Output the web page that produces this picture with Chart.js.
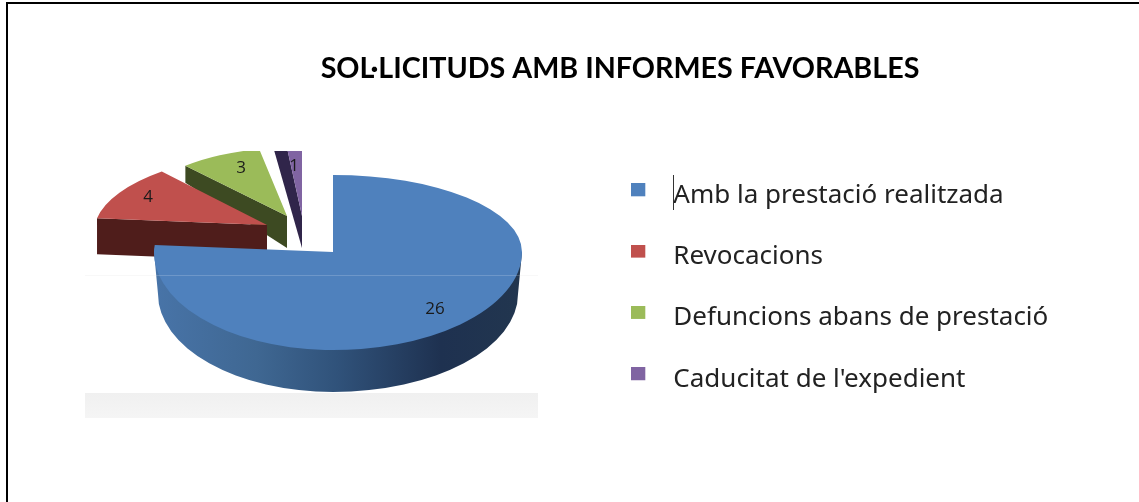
<!DOCTYPE html>
<html><head><meta charset="utf-8">
<style>html,body{margin:0;padding:0;background:#fff}#w{position:absolute;left:0;top:0;width:1139px;height:502px}</style>
<script src="https://cdn.jsdelivr.net/npm/chart.js@4"></script></head>
<body><div id="w"><canvas id="c" width="1139" height="502"></canvas></div>
<script>
const categories = ["Amb la prestació realitzada","Revocacions","Defuncions abans de prestació","Caducitat de l'expedient"];
const values = [26,4,3,1];
const titleText = "SOL·LICITUDS AMB INFORMES FAVORABLES";
const topColors = ["#4f81bd","#c0504d","#9bbb59","#8064a2"];
const wallColors = ["#1f3350","#4f1d1b","#3d4a22","#30254a"];
// presentation of the tilted pie: centre, tilt and size of each exploded slice
const sliceCenterX = [333,267,287,302];
const sliceCenterY = [252,225,216,216];
const sliceScale = [1,0.935,0.82,0.82];
const sliceTilt = [0.478,0.42,0.45,0.85];
const sliceShear = [0,-0.2,0,0];
const sliceWallNear = [42,36,32,32];
const sliceWallFar = [42,36,17,61];
const labelX = [435,148,241,294];
const labelY = [309,197,168,166];
const drawOrder = [3,2,1,0];
// the large slice is drawn in perspective: half-widths and half-heights per quadrant
const bigLeft = 179, bigRight = 189, bigUp = 77, bigDown = 98, bigWallInset = 4;

function squareIcon(color){
  const cv=document.createElement('canvas');cv.width=29;cv.height=24;
  const g=cv.getContext('2d');g.fillStyle=color;g.fillRect(0,0,14,13);return cv;
}

const tiltedPie={
  id:'tiltedPie',
  afterLayout(chart){
    const t=chart.titleBlock; t.left=320;t.right=920;
    const l=chart.legend; const w=l.width,h=l.height; l.left=596;l.right=596+w;l.top=147;l.bottom=147+h;
  },
  beforeDatasetsDraw(chart){
    const ctx=chart.ctx, arcs=chart.getDatasetMeta(0).data;
    ctx.save();
    const bg=ctx.createLinearGradient(0,393,0,418);bg.addColorStop(0,'#f0f0f0');bg.addColorStop(1,'#f5f5f5');
    ctx.fillStyle=bg;ctx.fillRect(85,393,453,25);
    ctx.fillStyle='#f8f8f8';ctx.fillRect(85,275,453,1);
    ctx.restore();
    drawOrder.forEach(i=>{
      const arc=arcs[i],R=arc.outerRadius;
      const X=sliceCenterX[i],Y=sliceCenterY[i];
      ctx.save();
      if(i===0){
        const d=sliceWallNear[0];
        const g=ctx.createLinearGradient(154,0,522,0);
        g.addColorStop(0,'#4874a8');g.addColorStop(0.28,'#3f6792');g.addColorStop(0.5,'#30527a');
        g.addColorStop(0.78,'#1e3150');g.addColorStop(1,'#22364f');
        ctx.fillStyle=g;ctx.beginPath();
        ctx.moveTo(X-bigLeft,Y);ctx.lineTo(X-bigLeft+bigWallInset,Y+d);
        ctx.ellipse(X,Y+d,bigLeft-bigWallInset,bigDown,0,Math.PI,Math.PI/2,true);
        ctx.ellipse(X,Y+d,bigRight-bigWallInset,bigDown,0,Math.PI/2,0,true);
        ctx.lineTo(X+bigRight,Y);ctx.closePath();ctx.fill();
        [[-1,-1,bigLeft,bigUp],[1,-1,bigRight,bigUp],[-1,1,bigLeft,bigDown],[1,1,bigRight,bigDown]].forEach(q=>{
          ctx.save();
          ctx.beginPath();
          ctx.rect(q[0]<0?X-400:X,q[1]<0?Y-300:Y,400,300);ctx.clip();
          ctx.translate(X,Y);ctx.scale(q[2]/R,q[3]/R);ctx.translate(-arc.x,-arc.y);
          arc.draw(ctx,chart.chartArea);
          ctx.restore();
        });
      }else{
        const s=sliceScale[i],k=sliceTilt[i],sh=sliceShear[i];
        ctx.beginPath();ctx.rect(0,151,1139,351);ctx.clip();
        const a=arc.startAngle;
        const py=Math.sin(a)*R*s*k;
        const ox=X+Math.cos(a)*R*s+sh*py, oy=Y+py;
        ctx.fillStyle=wallColors[i];ctx.beginPath();
        ctx.moveTo(X,Y);ctx.lineTo(ox,oy);
        ctx.lineTo(ox,oy+sliceWallFar[i]);ctx.lineTo(X,Y+sliceWallNear[i]);ctx.closePath();ctx.fill();
        ctx.transform(1,0,sh,1,X,Y);ctx.scale(s,s*k);ctx.translate(-arc.x,-arc.y);
        arc.draw(ctx,chart.chartArea);
      }
      ctx.restore();
    });
    ctx.save();
    ctx.fillStyle='rgba(255,255,255,0.18)';ctx.fillRect(155,275,365,1);
    ctx.fillStyle='#1a1a1a';ctx.font='17px "Open Sans"';ctx.textAlign='center';ctx.textBaseline='middle';
    values.forEach((v,i)=>ctx.fillText(String(v),labelX[i],labelY[i]));
    ctx.strokeStyle='#333';ctx.lineWidth=1;ctx.beginPath();ctx.moveTo(673.5,175);ctx.lineTo(673.5,210);ctx.stroke();
    ctx.strokeStyle='#000';ctx.lineWidth=2;ctx.beginPath();
    ctx.moveTo(7,502);ctx.lineTo(7,3);ctx.lineTo(1139,3);ctx.stroke();
    ctx.restore();
    return false;
  }
};

new Chart(document.getElementById('c'),{
  type:'pie',
  data:{labels:categories,datasets:[{data:values,backgroundColor:topColors,borderWidth:0,radius:184}]},
  options:{
    responsive:false,animation:false,
    layout:{padding:0},
    plugins:{
      title:{display:true,text:titleText,color:'#000',align:'center',font:{family:'Lato',size:28.7,weight:'bold'},padding:{top:52,bottom:10}},
      legend:{position:'right',align:'start',
        labels:{color:'#222',font:{family:'"Noto Sans"',size:26},padding:35.3,usePointStyle:true,pointStyleWidth:29,
          generateLabels:()=>categories.map((c,i)=>({text:c,pointStyle:squareIcon(topColors[i]),fillStyle:topColors[i],strokeStyle:'transparent',lineWidth:0,fontColor:'#222',index:i}))}},
      tooltip:{enabled:false}
    }
  },
  plugins:[tiltedPie]
});
</script></body></html>
